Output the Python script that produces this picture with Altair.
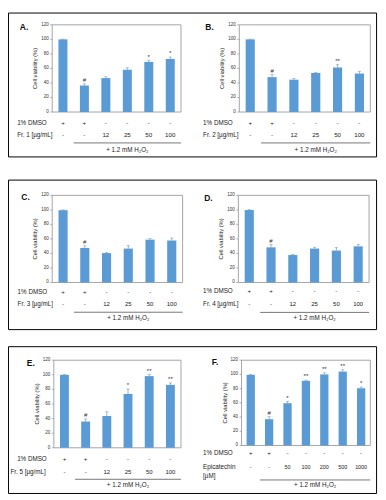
import altair as alt
import pandas as pd

FONT = "Liberation Sans"

# ---------------- data ----------------
panel_labels = ["A.", "B.", "C.", "D.", "E.", "F."]
treat_labels = [["Fr. 1 [µg/mL]"], ["Fr. 2 [µg/mL]"], ["Fr. 3 [µg/mL]"],
                ["Fr. 4 [µg/mL]"], ["Fr. 5 [µg/mL]"], ["Epicatechin", "[µM]"]]
dmso_label = "1% DMSO"
h2o2_label = "+ 1.2 mM H₂O₂"
y_title = "Cell viability (%)"
y_ticks = [0, 20, 40, 60, 80, 100, 120]

dmso_fr = ["+", "+", "-", "-", "-", "-"]
conc_fr = ["-", "-", "12", "25", "50", "100"]
dmso_epi = ["+", "+", "-", "-", "-", "-", "-"]
conc_epi = ["-", "-", "50", "100", "200", "500", "1000"]

viab_a = [100, 36.5, 46.7, 58.2, 69, 73]
err_a = [0.4, 2.2, 1.8, 2.7, 1.8, 2.7]
sig_a = ["", "#", "", "", "*", "*"]

viab_b = [100, 48, 44.5, 53.8, 61.3, 53]
err_b = [0.4, 3.5, 1.8, 0.6, 4.4, 3.0]
sig_b = ["", "#", "", "", "**", ""]

viab_c = [99.6, 47.6, 40.5, 46.7, 59, 57.8]
err_c = [0.4, 3.0, 1.0, 4.0, 1.8, 3.5]
sig_c = ["", "#", "", "", "", ""]

viab_d = [99.8, 48.4, 37.8, 46.7, 44, 49.8]
err_d = [0.5, 4.0, 0.6, 1.8, 4.0, 2.7]
sig_d = ["", "#", "", "", "", ""]

viab_e = [100, 36, 43.6, 73.8, 98.2, 86.2]
err_e = [0.4, 3.5, 5.8, 6.7, 2.2, 2.7]
sig_e = ["", "#", "", "*", "**", "**"]

viab_f = [99.5, 37, 59.5, 91, 100, 104, 80.5]
err_f = [0.5, 3.5, 2.6, 1.0, 2.2, 2.6, 1.8]
sig_f = ["", "#", "*", "**", "**", "**", "*"]

values = [viab_a, viab_b, viab_c, viab_d, viab_e, viab_f]
errors = [err_a, err_b, err_c, err_d, err_e, err_f]
sigs = [sig_a, sig_b, sig_c, sig_d, sig_e, sig_f]
dmso_rows = [dmso_fr] * 5 + [dmso_epi]
conc_rows = [conc_fr] * 5 + [conc_epi]

# ---------------- layout (reference pixels, scaled to canvas) ----------------
W, H = 377, 491
SX, SY = W / 385.0, H / 499.0


def fx(v):
    return round(v * SX, 2)


def fy(v):
    return round(v * SY, 2)


LAYOUT = [
    dict(lab=(16.7, 15.3), frame=(46, 180, 12.7, 103), rows=(114, 127, 135, 142), rx=9.5, rx2=9.5, pin=0.58, vfs=6.3),
    dict(lab=(209.7, 15.3), frame=(240.7, 377, 12.7, 103), rows=(114, 127, 135, 142), rx=203, rx2=203, pin=0.58, vfs=6.3),
    dict(lab=(18.3, 191.5), frame=(46, 181.7, 189.3, 279.5), rows=(289, 301.7, 310.3, 316), rx=10, rx2=10, pin=0.58, vfs=6.1),
    dict(lab=(208.5, 192), frame=(239.7, 375.7, 189.3, 279.5), rows=(288, 301.7, 310.5, 316.5), rx=203, rx2=203, pin=0.58, vfs=6.1),
    dict(lab=(23.7, 362.7), frame=(47.7, 180, 360, 450.7), rows=(462, 475.7, 483.3, 489), rx=9.5, rx2=2.5, pin=0.58, vfs=6.1),
    dict(lab=(215.5, 362), frame=(243, 377, 360, 448.3), rows=(456, 470.7, 484, 489.3), rx=203, rx2=203, pin=0.55, vfs=5.5),
]
BOXES = [(0, 384, 0.5, 149.5), (0, 384, 173.5, 328.3), (0, 384, 346, 498)]

BAR = "#5b9bd5"
ERR = "#7f97b8"
TXT = "#1a1a1a"
one = pd.DataFrame({"k": [0]})
tick_df = pd.DataFrame({"t": y_ticks})


def panel(k):
    L = LAYOUT[k]
    vals = values[k]
    n = len(vals)
    df = pd.DataFrame({
        "i": list(range(n)),
        "v": vals,
        "top": [a + b for a, b in zip(vals, errors[k])],
        "sig": sigs[k],
        "dmso": dmso_rows[k],
        "conc": conc_rows[k],
    })
    l, r, t, b = L["frame"]
    l, r, t, b = fx(l), fx(r), fy(t), fy(b)
    r1, r2, uy, hy = [fy(v) for v in L["rows"]]
    pin = L["pin"]
    xs = alt.Scale(type="band", domain=list(range(n)), range=[l, r],
                   paddingInner=pin, paddingOuter=pin / 2)
    ys = alt.Scale(domain=[0, 120], range=[b, t], nice=False, zero=True)
    X = alt.X("i:O", scale=xs, axis=None)
    base = alt.Chart(df)

    frame = alt.Chart(one).mark_rect(fillOpacity=0, stroke="#9a9a9a", strokeWidth=0.9).encode(
        x=alt.value(l), x2=alt.value(r), y=alt.value(t), y2=alt.value(b))

    # y axis drawn from the panel's own y scale
    tmarks = alt.Chart(tick_df).mark_rule(color="#9a9a9a", strokeWidth=0.8).encode(
        x=alt.value(round(l - 2, 2)), x2=alt.value(l),
        y=alt.Y("t:Q", scale=ys, axis=None))
    tlabels = alt.Chart(tick_df).mark_text(
        align="right", baseline="middle", fontSize=4.6, color="#333333", font=FONT).encode(
        x=alt.value(round(l - 3.6, 2)), y=alt.Y("t:Q", scale=ys, axis=None), text="t:Q")
    ytitle = alt.Chart(one).mark_text(
        angle=270, baseline="middle", fontSize=5.9, color="#222222", font=FONT).encode(
        x=alt.value(round(l - fx(17.6), 2)), y=alt.value(round((t + b) / 2, 2)),
        text=alt.value(y_title))

    bars = base.mark_bar(color=BAR).encode(
        x=X, y=alt.Y("v:Q", scale=ys, axis=None))
    err = base.mark_rule(color=ERR, strokeWidth=0.8).encode(
        x=X, y=alt.Y("v:Q", scale=ys, axis=None), y2="top:Q")
    cap = base.mark_tick(color=ERR, thickness=0.8, size=3.2).encode(
        x=X, y=alt.Y("top:Q", scale=ys, axis=None))
    stars = base.transform_filter("datum.sig != ''").mark_text(
        fontSize=6.2, baseline="bottom", dy=-0.8, color="#333333", font=FONT).encode(
        x=X, y=alt.Y("top:Q", scale=ys, axis=None), text="sig:N")
    row1 = base.mark_text(fontSize=6.3, color=TXT, font=FONT).encode(
        x=X, y=alt.value(r1), text="dmso:N")
    row2 = base.mark_text(fontSize=L["vfs"], color=TXT, font=FONT).encode(
        x=X, y=alt.value(r2), text="conc:N")

    lab1 = alt.Chart(one).mark_text(align="left", fontSize=6.4, color=TXT, font=FONT).encode(
        x=alt.value(fx(L["rx"])), y=alt.value(r1), text=alt.value(dmso_label))
    tl = []
    for j, line in enumerate(treat_labels[k]):
        tl.append(alt.Chart(one).mark_text(align="left", fontSize=6.4, color=TXT, font=FONT).encode(
            x=alt.value(fx(L["rx2"])), y=alt.value(round(r2 + j * fy(9.3), 2)), text=alt.value(line)))

    ux1 = round(l + (r - l) / n, 2)
    uline = alt.Chart(one).mark_rule(color="#666666", strokeWidth=0.9).encode(
        x=alt.value(ux1), x2=alt.value(r), y=alt.value(uy))
    h2o2 = alt.Chart(one).mark_text(fontSize=6.4, color=TXT, font=FONT).encode(
        x=alt.value(round((ux1 + r) / 2, 2)), y=alt.value(hy), text=alt.value(h2o2_label))
    plab = alt.Chart(one).mark_text(fontSize=8.6, fontWeight="bold", color="#111111", font=FONT).encode(
        x=alt.value(fx(L["lab"][0])), y=alt.value(fy(L["lab"][1])), text=alt.value(panel_labels[k]))

    return alt.layer(frame, tmarks, tlabels, ytitle, bars, err, cap, stars,
                     row1, row2, lab1, *tl, uline, h2o2, plab)


boxes = []
for (x1, x2, y1, y2) in BOXES:
    boxes.append(alt.Chart(one).mark_rect(fillOpacity=0, stroke="#000000", strokeWidth=1).encode(
        x=alt.value(fx(x1) + 0.5), x2=alt.value(fx(x2) - 0.5),
        y=alt.value(fy(y1)), y2=alt.value(fy(y2))))

chart = alt.layer(*boxes, *[panel(k) for k in range(6)]).resolve_scale(
    x="independent", y="independent"
).properties(
    width=W, height=H, padding=0, autosize=alt.AutoSizeParams(type="none")
).configure_view(strokeWidth=0)

chart.save("out.html", embed_options={"renderer": "svg", "actions": False})
